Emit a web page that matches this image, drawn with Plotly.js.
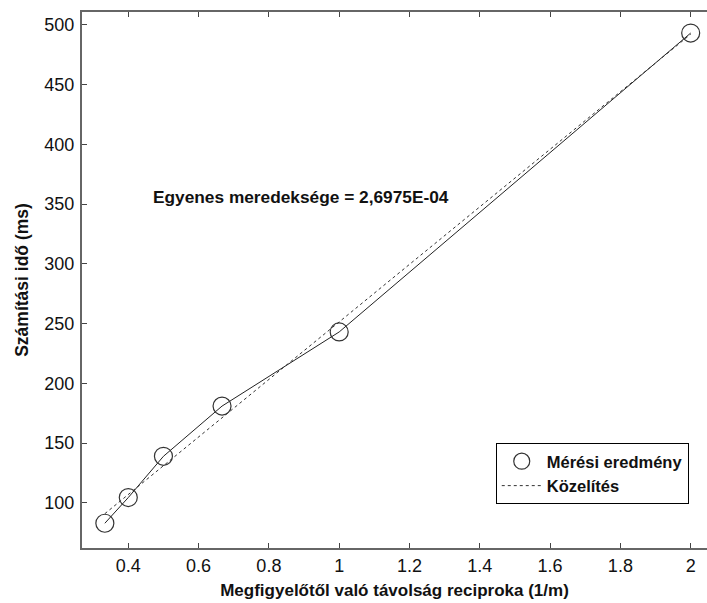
<!DOCTYPE html>
<html>
<head>
<meta charset="utf-8">
<script src="https://cdn.plot.ly/plotly-3.0.1.min.js"></script>
<style>html,body{margin:0;padding:0;background:#fff;}#chart{width:707px;height:603px;}</style>
</head>
<body>
<div id="chart"></div>
<script>
// Measured data
const xMeas = [0.3333, 0.4, 0.5, 0.6667, 1.0, 2.0];
const yMeas = [83, 104.5, 139, 181, 243, 493];
// Fitted line endpoints
const xFit = [0.3333, 2.0];
const yFit = [91, 492];
const xTicks = [0.4, 0.6, 0.8, 1, 1.2, 1.4, 1.6, 1.8, 2];
const yTicks = [100, 150, 200, 250, 300, 350, 400, 450, 500];
const annText = 'Egyenes meredeksége = 2,6975E-04';

const font = 'Arial, "Liberation Sans", sans-serif';

const traces = [
  {x: xMeas, y: yMeas, mode: 'lines', line: {color: '#222', width: 1}, showlegend: false, hoverinfo: 'skip'},
  {x: xMeas, y: yMeas, mode: 'markers', name: '<b>Mérési eredmény</b>',
   marker: {symbol: 'circle-open', size: 18, color: '#333', line: {width: 1.2, color: '#333'}}},
  {x: xFit, y: yFit, mode: 'lines', name: '<b>Közelítés</b>',
   line: {color: '#333', width: 1, dash: 'dot'}}
];

const layout = {
  width: 707, height: 603,
  margin: {l: 82, r: 0, t: 12, b: 55},
  paper_bgcolor: '#fff', plot_bgcolor: '#fff',
  font: {family: font, color: '#111'},
  showlegend: true,
  legend: {
    x: 0.662, y: 0.196, xanchor: 'left', yanchor: 'top',
    bordercolor: '#000', borderwidth: 1, bgcolor: '#fff',
    font: {family: font, size: 16.5, color: '#111'},
    itemwidth: 40, tracegroupgap: 2
  },
  xaxis: {
    range: [0.2683, 2.0464],
    tickvals: xTicks, ticktext: xTicks.map(String),
    ticks: 'inside', ticklen: 5, tickcolor: '#444', tickwidth: 1,
    showline: true, linecolor: '#666', linewidth: 2, mirror: 'ticks',
    showgrid: false, zeroline: false,
    tickfont: {family: font, size: 18, color: '#111'},
    title: {text: '<b>Megfigyelőtől való távolság reciproka (1/m)</b>', font: {family: font, size: 17, color: '#111'}, standoff: 10}
  },
  yaxis: {
    range: [62.3, 510.6],
    tickvals: yTicks, ticktext: yTicks.map(String),
    ticks: 'inside', ticklen: 5, tickcolor: '#444', tickwidth: 1,
    showline: true, linecolor: '#666', linewidth: 2, mirror: false,
    showgrid: false, zeroline: false,
    ticklabelstandoff: 2,
    tickfont: {family: font, size: 18, color: '#111'},
    title: {text: '<b>Számítási idő (ms)</b>', font: {family: font, size: 17.5, color: '#111'}, standoff: 11}
  },
  annotations: [{
    x: 0.465, y: 356, xref: 'x', yref: 'y', xanchor: 'left', yanchor: 'middle',
    text: '<b>' + annText + '</b>', showarrow: false,
    font: {family: font, size: 17.3, color: '#111'}
  }]
};

Plotly.newPlot('chart', traces, layout, {displayModeBar: false, staticPlot: true});
</script>
</body>
</html>
